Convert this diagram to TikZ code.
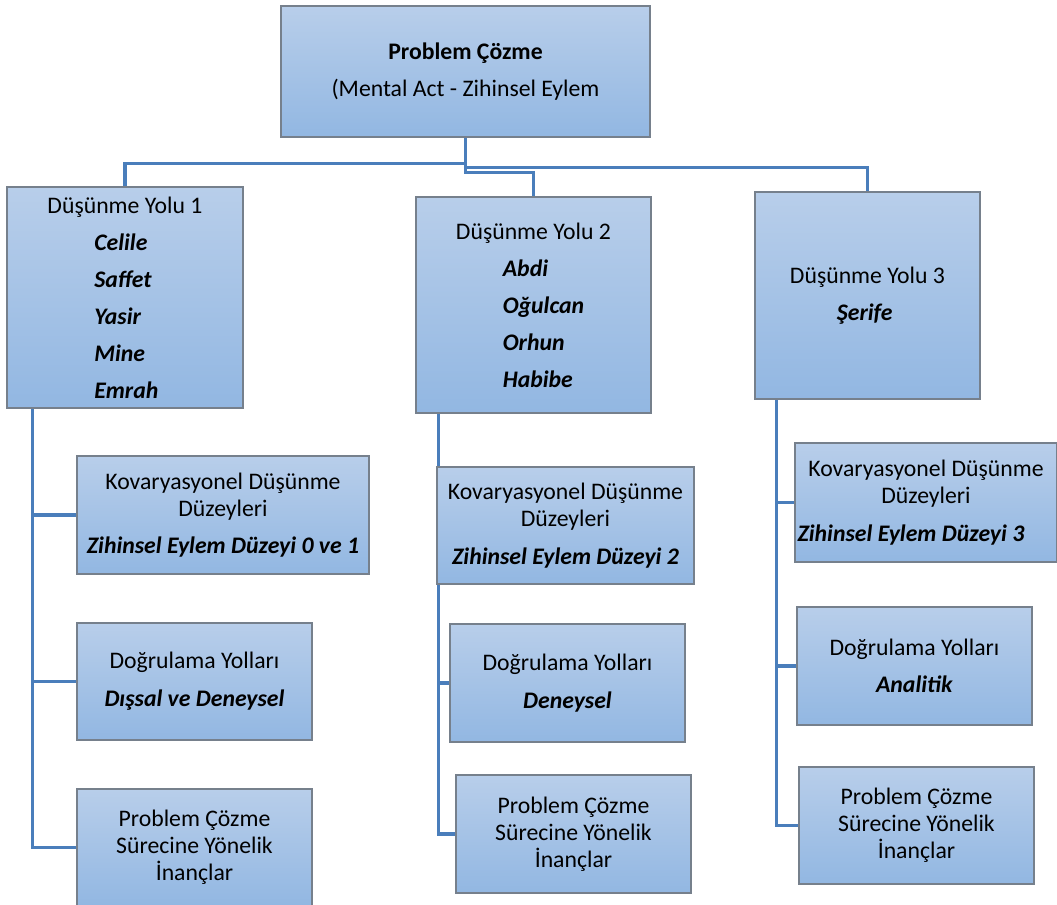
\documentclass[tikz,border=0pt]{standalone}
\usepackage{fontspec}
\setmainfont{Carlito}
\usetikzlibrary{positioning,backgrounds}

\definecolor{kutuust}{RGB}{184,206,234}
\definecolor{kutualt}{RGB}{146,183,226}
\definecolor{kenar}{RGB}{118,128,140}
\definecolor{hat}{RGB}{74,126,187}

\newcommand{\isim}[1]{\makebox[46pt][l]{\bfseries\itshape #1}}

\begin{document}
\begin{tikzpicture}[x=0.75pt,y=-0.75pt,
  kutu/.style={draw=kenar,line width=0.9pt,top color=kutuust,bottom color=kutualt,
    align=center,inner sep=2pt,font=\fontsize{17.8}{20.25}\selectfont},
  boyut/.style 2 args={minimum width=#1*0.75pt,minimum height=#2*0.75pt},
  baglanti/.style={draw=hat,line width=2.3pt}]
\useasboundingbox (0,0) rectangle (1057,905);
\clip (0,0) rectangle (1057,905);
% ust kutu
\node[kutu,boyut={369}{131}] (top) at (465.5,71.5) {\textbf{Problem Çözme}\\[8pt](Mental Act - Zihinsel Eylem};
% dusunme yollari
\node[kutu,boyut={236}{221}] (y1) at (125,297.5) {Düşünme Yolu 1\\[7.5pt]\isim{Celile}\\[7.5pt]\isim{Saffet}\\[7.5pt]\isim{Yasir}\\[7.5pt]\isim{Mine}\\[7.5pt]\isim{Emrah}};
\node[kutu,boyut={235}{216}] (y2) at (533.5,305) {Düşünme Yolu 2\\[7.5pt]\isim{Abdi}\\[7.5pt]\isim{Oğulcan}\\[7.5pt]\isim{Orhun}\\[7.5pt]\isim{Habibe}};
\node[kutu,boyut={225}{207}] (y3) at (867.5,295.5) {Düşünme Yolu 3\\[7.5pt]\isim{Şerife}};
% alt kutular
\node[kutu,boyut={292}{118}] (k1) at (223,515) {Kovaryasyonel Düşünme\\Düzeyleri\\[8pt]\textbf{\textit{Zihinsel Eylem Düzeyi 0 ve 1}}};
\node[kutu,boyut={235}{117}] (d1) at (194.5,681.5) {Doğrulama Yolları\\[8pt]\textbf{\textit{Dışsal ve Deneysel}}};
\node[kutu,boyut={235}{117}] (p1) at (194.5,847.5) {Problem Çözme\\Sürecine Yönelik\\İnançlar};
\node[kutu,boyut={257}{117}] (k2) at (565.5,525.5) {Kovaryasyonel Düşünme\\Düzeyleri\\[8pt]\textbf{\textit{Zihinsel Eylem Düzeyi 2}}};
\node[kutu,boyut={235}{118}] (d2) at (567.5,683) {Doğrulama Yolları\\[8pt]\textbf{\textit{Deneysel}}};
\node[kutu,boyut={235}{118}] (p2) at (573.5,834) {Problem Çözme\\Sürecine Yönelik\\İnançlar};
\node[kutu,boyut={262}{119}] (k3) at (926,502.5) {Kovaryasyonel Düşünme\\Düzeyleri\\[8pt]\hspace*{-22.5pt}\textbf{\textit{Zihinsel Eylem Düzeyi 3}}};
\node[kutu,boyut={235}{118}] (d3) at (914.5,666) {Doğrulama Yolları\\[8pt]\textbf{\textit{Analitik}}};
\node[kutu,boyut={235}{117}] (p3) at (916.5,825.5) {Problem Çözme\\Sürecine Yönelik\\İnançlar};
% baglantilar
\coordinate (s1) at ([xshift=19.5pt]y1.south west);
\coordinate (s2) at ([xshift=17.25pt]y2.south west);
\coordinate (s3) at ([xshift=16.5pt]y3.south west);
\begin{scope}[on background layer]
\draw[baglanti] (top.south) -- ++(0,26) -| (y1.north);
\draw[baglanti] (top.south) -- ++(0,30) -| (y3.north);
\draw[baglanti] (top.south) -- ++(0,35) -| (y2.north);
\draw[baglanti] (s1) |- (p1.west);
\draw[baglanti] (s1) |- (k1.west);
\draw[baglanti] (s1) |- (d1.west);
\draw[baglanti] (s2) |- (p2.west);
\draw[baglanti] (s2) |- (d2.west);
\draw[baglanti] (s3) |- (p3.west);
\draw[baglanti] (s3) |- (k3.west);
\draw[baglanti] (s3) |- (d3.west);
\end{scope}
\end{tikzpicture}
\end{document}
